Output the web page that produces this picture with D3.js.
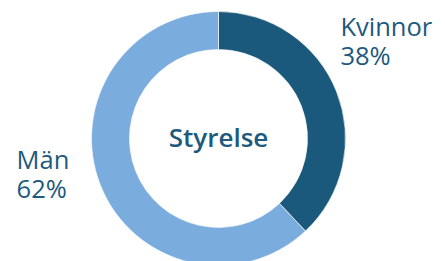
<!DOCTYPE html>
<html>
<head>
<meta charset="utf-8">
<script src="https://cdn.jsdelivr.net/npm/d3@7"></script>
<style>
  html, body { margin: 0; padding: 0; background: #fff; }
  svg { display: block; }
</style>
</head>
<body>
<svg id="chart" width="445" height="261"></svg>
<script>
// Board composition (percent)
const categories = ['Kvinnor', 'Män'];
const values = [38, 62];
const centerTitle = 'Styrelse';

const width = 445;
const height = 261;
const cx = 218.5;
const cy = 138.5;
const outerRadius = 127;
const innerRadius = 89;

const textColor = '#1d5a7e';
const color = d3.scaleOrdinal()
  .domain(categories)
  .range(['#1b597c', '#7aacde']);

const svg = d3.select('#chart');
const g = svg.append('g')
  .attr('transform', `translate(${cx},${cy})`);

const pie = d3.pie()
  .sort(null)
  .value((d) => d.value);

const arcs = pie(categories.map((c, i) => ({ category: c, value: values[i] })));

const arc = d3.arc()
  .innerRadius(innerRadius)
  .outerRadius(outerRadius);

// Slices
g.append('g')
  .selectAll('path')
  .data(arcs)
  .join('path')
  .attr('d', arc)
  .attr('fill', (d) => color(d.data.category))
  .attr('stroke', '#fff')
  .attr('stroke-width', 0.6);

// Centre title
g.append('text')
  .attr('text-anchor', 'middle')
  .attr('y', 8)
  .attr('font-family', 'Open Sans, sans-serif')
  .attr('font-weight', 600)
  .attr('font-size', 26)
  .attr('fill', textColor)
  .text(centerTitle);

// Outside labels: Kvinnor top right, Män on the left
const labelPos = [
  { x: outerRadius * 0.96, y: -outerRadius * 0.81 },
  { x: -outerRadius * 1.59, y: outerRadius * 0.24 },
];
const lineGap = 29.5;

const labelG = g.append('g')
  .attr('font-family', 'Open Sans, sans-serif')
  .attr('font-size', 25.5)
  .attr('fill', textColor);

labelG.selectAll('text.name')
  .data(arcs)
  .join('text')
  .attr('class', 'name')
  .attr('x', (d, i) => labelPos[i].x)
  .attr('y', (d, i) => labelPos[i].y)
  .text((d) => d.data.category);

labelG.selectAll('text.pct')
  .data(arcs)
  .join('text')
  .attr('class', 'pct')
  .attr('x', (d, i) => labelPos[i].x)
  .attr('y', (d, i) => labelPos[i].y + lineGap)
  .text((d) => `${d.data.value}%`);
</script>
</body>
</html>
